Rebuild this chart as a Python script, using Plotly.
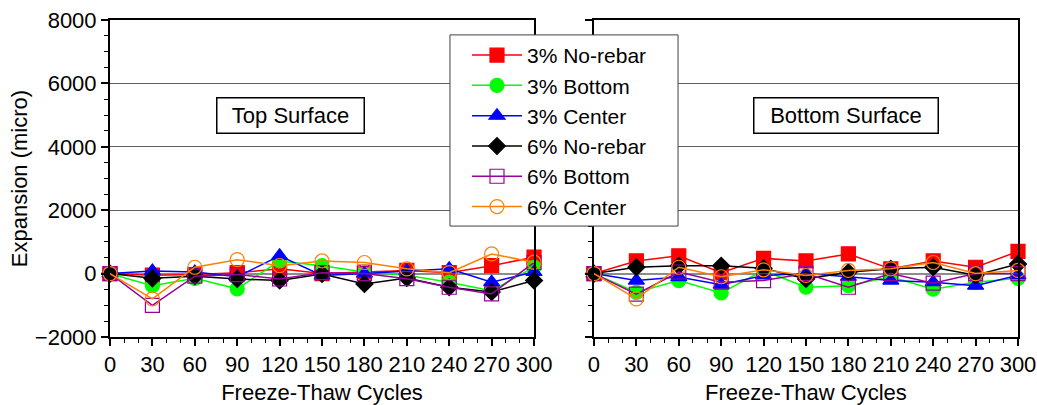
import plotly.graph_objects as go
from plotly.subplots import make_subplots

cycles = [0, 30, 60, 90, 120, 150, 180, 210, 240, 270, 300]

# Top Surface
top_3_norebar = [0, -50, -30, 30, 150, 0, 50, 100, 30, 250, 520]
top_3_bottom = [0, -380, -150, -480, 400, 250, 50, -50, -270, -540, 200]
top_3_center = [0, 80, 50, -100, 560, -60, 0, 80, 150, -270, 50]
top_6_norebar = [0, -150, -80, -170, -220, -10, -330, -140, -430, -580, -220]
top_6_bottom = [0, -1000, -80, -30, -170, 30, 0, -160, -430, -640, 350]
top_6_center = [0, -800, 200, 440, 250, 400, 350, 150, 30, 620, 360]

# Bottom Surface
bot_3_norebar = [0, 400, 560, 30, 480, 400, 620, 150, 400, 200, 700]
bot_3_bottom = [0, -590, -220, -610, 100, -430, -380, -100, -490, -270, -150]
bot_3_center = [0, -220, -110, -350, -60, 0, -100, -220, -270, -380, -50]
bot_6_norebar = [0, 200, 250, 250, 170, -170, 40, 150, 200, -50, 300]
bot_6_bottom = [0, -650, 50, -270, -220, 0, -430, 0, -300, 0, 0]
bot_6_center = [0, -800, 200, -100, 120, -60, 100, 150, 350, 0, 100]

series_names = ["3% No-rebar", "3% Bottom", "3% Center", "6% No-rebar", "6% Bottom", "6% Center"]
colors = ["#FF0000", "#00FF00", "#0000FF", "#000000", "#990099", "#FF8000"]
symbols = ["square", "circle", "triangle-up", "diamond", "square-open", "circle-open"]
msizes = [14, 14, 14, 13, 14, 14]

top_data = [top_3_norebar, top_3_bottom, top_3_center, top_6_norebar, top_6_bottom, top_6_center]
bot_data = [bot_3_norebar, bot_3_bottom, bot_3_center, bot_6_norebar, bot_6_bottom, bot_6_center]

FONT = "Liberation Sans, Arial, sans-serif"
FS = 22

fig = make_subplots(rows=1, cols=2, shared_yaxes=False, horizontal_spacing=0.066)

for col, data in ((1, top_data), (2, bot_data)):
    for i, ys in enumerate(data):
        fig.add_trace(
            go.Scatter(
                x=cycles, y=ys, mode="lines+markers", name=series_names[i],
                legendgroup=series_names[i], showlegend=(col == 1),
                line=dict(color=colors[i], width=1.5),
                marker=dict(symbol=symbols[i], size=msizes[i], color=colors[i],
                            line=dict(color=colors[i], width=1.2)),
                cliponaxis=False,
            ),
            row=1, col=col,
        )

xcommon = dict(
    range=[0, 300], tickmode="array", tickvals=cycles, ticktext=[str(c) for c in cycles],
    ticks="outside", ticklen=7, tickwidth=1.5, tickcolor="black",
    minor=dict(dtick=10, ticks="outside", ticklen=4, tickwidth=1, tickcolor="black"),
    showline=True, linewidth=2, linecolor="black", mirror=True,
    showgrid=False, zeroline=False, automargin=False,
    tickfont=dict(family=FONT, size=FS, color="black"),
    title=dict(text="Freeze-Thaw Cycles", font=dict(family=FONT, size=FS, color="black"), standoff=13),
)
ycommon = dict(
    range=[-2000, 8000], dtick=2000, tick0=0,
    ticks="outside", ticklen=7, tickwidth=1.5, tickcolor="black",
    minor=dict(dtick=500, ticks="outside", ticklen=4, tickwidth=1, tickcolor="black", showgrid=False),
    showline=True, linewidth=2, linecolor="black", mirror=True,
    showgrid=True, gridcolor="#606060", gridwidth=1, automargin=False,
    zeroline=True, zerolinecolor="#8c8c8c", zerolinewidth=1.5,
    tickfont=dict(family=FONT, size=FS, color="black"),
)

fig.update_xaxes(**xcommon)
fig.update_yaxes(**ycommon)
fig.update_yaxes(title=dict(text="Expansion (micro)", font=dict(family=FONT, size=FS, color="black"), standoff=1), row=1, col=1)
fig.update_yaxes(showticklabels=False, row=1, col=2)
fig.update_xaxes(domain=[0, 0.467], row=1, col=1)
fig.update_xaxes(domain=[0.533, 1.0], row=1, col=2)

fig.add_annotation(x=0.1993, y=0.7003, xref="paper", yref="paper", text="Top Surface",
                   xanchor="center", yanchor="middle",
                   showarrow=False, font=dict(family=FONT, size=FS, color="black"),
                   bordercolor="black", borderwidth=1.5, bgcolor="white",
                   width=146, height=34, borderpad=0)
fig.add_annotation(x=0.8106, y=0.7003, xref="paper", yref="paper", text="Bottom Surface",
                   xanchor="center", yanchor="middle",
                   showarrow=False, font=dict(family=FONT, size=FS, color="black"),
                   bordercolor="black", borderwidth=1.5, bgcolor="white",
                   width=183, height=34, borderpad=0)

# legend frame
fig.add_shape(type="rect", xref="paper", yref="paper", x0=0.3744, x1=0.6256, y0=0.350, y1=0.953,
              line=dict(color="#404040", width=1), fillcolor="white", layer="above")

fig.update_layout(
    width=1037, height=405,
    margin=dict(l=110, r=19, t=20, b=68),
    paper_bgcolor="white", plot_bgcolor="white",
    font=dict(family=FONT, size=FS, color="black"),
    showlegend=True,
    legend=dict(x=(467 - 110) / 908, y=0.953, xanchor="left", yanchor="top",
                bgcolor="rgba(0,0,0,0)", borderwidth=0,
                font=dict(family=FONT, size=21, color="black"),
                itemwidth=50, tracegroupgap=0, traceorder="normal"),
)

fig.write_html("out.html")
